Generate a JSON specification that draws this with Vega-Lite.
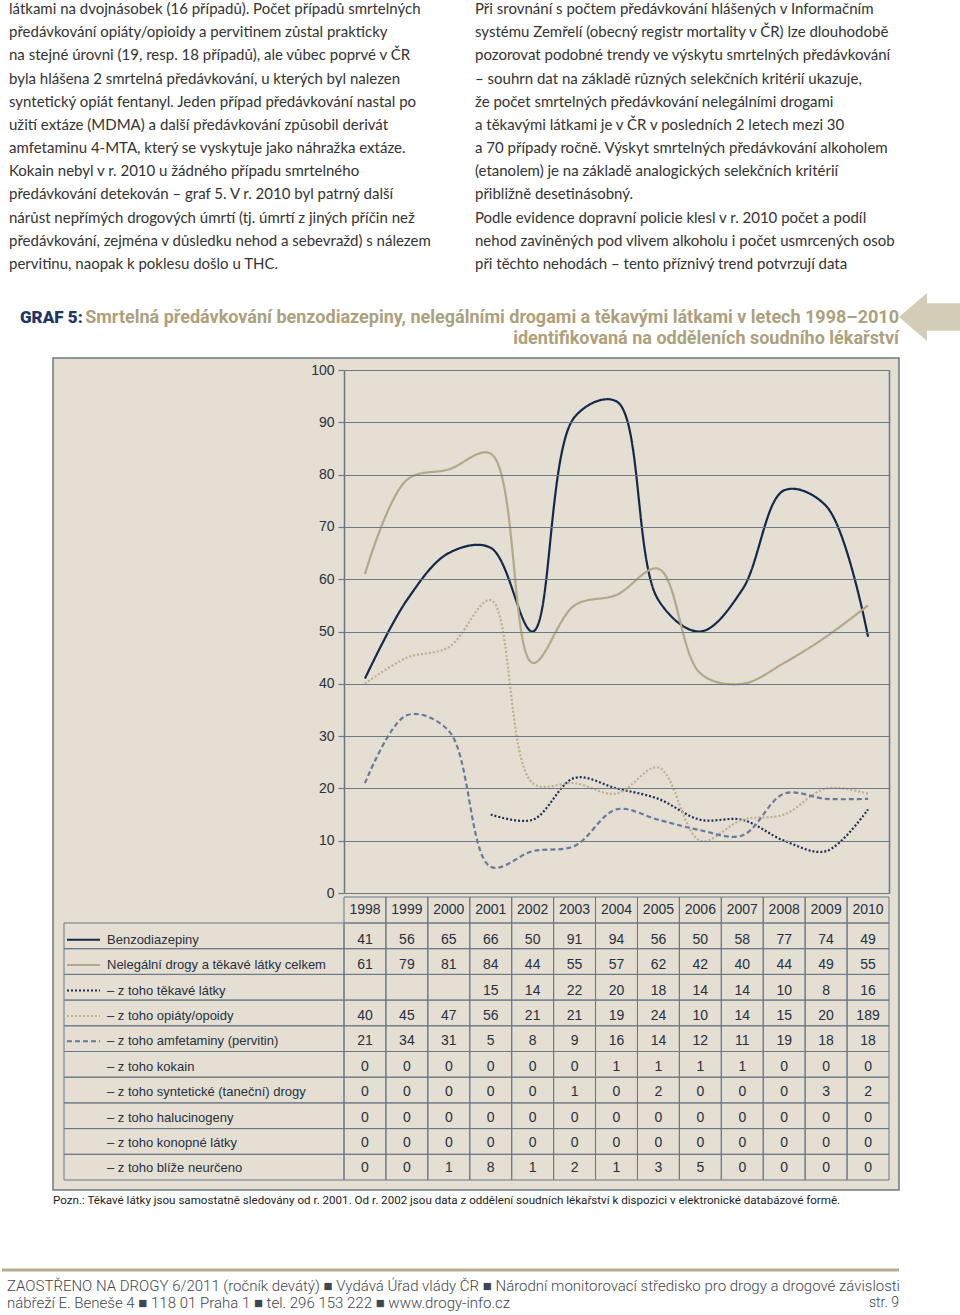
{
  "$schema": "https://vega.github.io/schema/vega-lite/v6.json",
  "background": "white",
  "padding": 0,
  "spacing": 0,
  "bounds": "flush",
  "config": {"view": {"stroke": null}, "font": "Liberation Sans"},
  "datasets": {
    "years": [{"year":1998},{"year":1999},{"year":2000},{"year":2001},{"year":2002},{"year":2003},{"year":2004},{"year":2005},{"year":2006},{"year":2007},{"year":2008},{"year":2009},{"year":2010}],
    "series": [
      {"series":"Benzodiazepiny","plotted":true},
      {"series":"Nelegální drogy a těkavé látky celkem","plotted":true},
      {"series":"– z toho těkavé látky","plotted":true},
      {"series":"– z toho opiáty/opoidy","plotted":true},
      {"series":"– z toho amfetaminy (pervitin)","plotted":true},
      {"series":"– z toho kokain","plotted":false},
      {"series":"– z toho syntetické (taneční) drogy","plotted":false},
      {"series":"– z toho halucinogeny","plotted":false},
      {"series":"– z toho konopné látky","plotted":false},
      {"series":"– z toho blíže neurčeno","plotted":false}
    ],
    "tab": [
      {"series":"Benzodiazepiny","year":1998,"value":41,"cell":"41"},
      {"series":"Benzodiazepiny","year":1999,"value":56,"cell":"56"},
      {"series":"Benzodiazepiny","year":2000,"value":65,"cell":"65"},
      {"series":"Benzodiazepiny","year":2001,"value":66,"cell":"66"},
      {"series":"Benzodiazepiny","year":2002,"value":50,"cell":"50"},
      {"series":"Benzodiazepiny","year":2003,"value":91,"cell":"91"},
      {"series":"Benzodiazepiny","year":2004,"value":94,"cell":"94"},
      {"series":"Benzodiazepiny","year":2005,"value":56,"cell":"56"},
      {"series":"Benzodiazepiny","year":2006,"value":50,"cell":"50"},
      {"series":"Benzodiazepiny","year":2007,"value":58,"cell":"58"},
      {"series":"Benzodiazepiny","year":2008,"value":77,"cell":"77"},
      {"series":"Benzodiazepiny","year":2009,"value":74,"cell":"74"},
      {"series":"Benzodiazepiny","year":2010,"value":49,"cell":"49"},
      {"series":"Nelegální drogy a těkavé látky celkem","year":1998,"value":61,"cell":"61"},
      {"series":"Nelegální drogy a těkavé látky celkem","year":1999,"value":79,"cell":"79"},
      {"series":"Nelegální drogy a těkavé látky celkem","year":2000,"value":81,"cell":"81"},
      {"series":"Nelegální drogy a těkavé látky celkem","year":2001,"value":84,"cell":"84"},
      {"series":"Nelegální drogy a těkavé látky celkem","year":2002,"value":44,"cell":"44"},
      {"series":"Nelegální drogy a těkavé látky celkem","year":2003,"value":55,"cell":"55"},
      {"series":"Nelegální drogy a těkavé látky celkem","year":2004,"value":57,"cell":"57"},
      {"series":"Nelegální drogy a těkavé látky celkem","year":2005,"value":62,"cell":"62"},
      {"series":"Nelegální drogy a těkavé látky celkem","year":2006,"value":42,"cell":"42"},
      {"series":"Nelegální drogy a těkavé látky celkem","year":2007,"value":40,"cell":"40"},
      {"series":"Nelegální drogy a těkavé látky celkem","year":2008,"value":44,"cell":"44"},
      {"series":"Nelegální drogy a těkavé látky celkem","year":2009,"value":49,"cell":"49"},
      {"series":"Nelegální drogy a těkavé látky celkem","year":2010,"value":55,"cell":"55"},
      {"series":"– z toho těkavé látky","year":1998,"value":null,"cell":""},
      {"series":"– z toho těkavé látky","year":1999,"value":null,"cell":""},
      {"series":"– z toho těkavé látky","year":2000,"value":null,"cell":""},
      {"series":"– z toho těkavé látky","year":2001,"value":15,"cell":"15"},
      {"series":"– z toho těkavé látky","year":2002,"value":14,"cell":"14"},
      {"series":"– z toho těkavé látky","year":2003,"value":22,"cell":"22"},
      {"series":"– z toho těkavé látky","year":2004,"value":20,"cell":"20"},
      {"series":"– z toho těkavé látky","year":2005,"value":18,"cell":"18"},
      {"series":"– z toho těkavé látky","year":2006,"value":14,"cell":"14"},
      {"series":"– z toho těkavé látky","year":2007,"value":14,"cell":"14"},
      {"series":"– z toho těkavé látky","year":2008,"value":10,"cell":"10"},
      {"series":"– z toho těkavé látky","year":2009,"value":8,"cell":"8"},
      {"series":"– z toho těkavé látky","year":2010,"value":16,"cell":"16"},
      {"series":"– z toho opiáty/opoidy","year":1998,"value":40,"cell":"40"},
      {"series":"– z toho opiáty/opoidy","year":1999,"value":45,"cell":"45"},
      {"series":"– z toho opiáty/opoidy","year":2000,"value":47,"cell":"47"},
      {"series":"– z toho opiáty/opoidy","year":2001,"value":56,"cell":"56"},
      {"series":"– z toho opiáty/opoidy","year":2002,"value":21,"cell":"21"},
      {"series":"– z toho opiáty/opoidy","year":2003,"value":21,"cell":"21"},
      {"series":"– z toho opiáty/opoidy","year":2004,"value":19,"cell":"19"},
      {"series":"– z toho opiáty/opoidy","year":2005,"value":24,"cell":"24"},
      {"series":"– z toho opiáty/opoidy","year":2006,"value":10,"cell":"10"},
      {"series":"– z toho opiáty/opoidy","year":2007,"value":14,"cell":"14"},
      {"series":"– z toho opiáty/opoidy","year":2008,"value":15,"cell":"15"},
      {"series":"– z toho opiáty/opoidy","year":2009,"value":20,"cell":"20"},
      {"series":"– z toho opiáty/opoidy","year":2010,"value":19,"cell":"189"},
      {"series":"– z toho amfetaminy (pervitin)","year":1998,"value":21,"cell":"21"},
      {"series":"– z toho amfetaminy (pervitin)","year":1999,"value":34,"cell":"34"},
      {"series":"– z toho amfetaminy (pervitin)","year":2000,"value":31,"cell":"31"},
      {"series":"– z toho amfetaminy (pervitin)","year":2001,"value":5,"cell":"5"},
      {"series":"– z toho amfetaminy (pervitin)","year":2002,"value":8,"cell":"8"},
      {"series":"– z toho amfetaminy (pervitin)","year":2003,"value":9,"cell":"9"},
      {"series":"– z toho amfetaminy (pervitin)","year":2004,"value":16,"cell":"16"},
      {"series":"– z toho amfetaminy (pervitin)","year":2005,"value":14,"cell":"14"},
      {"series":"– z toho amfetaminy (pervitin)","year":2006,"value":12,"cell":"12"},
      {"series":"– z toho amfetaminy (pervitin)","year":2007,"value":11,"cell":"11"},
      {"series":"– z toho amfetaminy (pervitin)","year":2008,"value":19,"cell":"19"},
      {"series":"– z toho amfetaminy (pervitin)","year":2009,"value":18,"cell":"18"},
      {"series":"– z toho amfetaminy (pervitin)","year":2010,"value":18,"cell":"18"},
      {"series":"– z toho kokain","year":1998,"value":0,"cell":"0"},
      {"series":"– z toho kokain","year":1999,"value":0,"cell":"0"},
      {"series":"– z toho kokain","year":2000,"value":0,"cell":"0"},
      {"series":"– z toho kokain","year":2001,"value":0,"cell":"0"},
      {"series":"– z toho kokain","year":2002,"value":0,"cell":"0"},
      {"series":"– z toho kokain","year":2003,"value":0,"cell":"0"},
      {"series":"– z toho kokain","year":2004,"value":1,"cell":"1"},
      {"series":"– z toho kokain","year":2005,"value":1,"cell":"1"},
      {"series":"– z toho kokain","year":2006,"value":1,"cell":"1"},
      {"series":"– z toho kokain","year":2007,"value":1,"cell":"1"},
      {"series":"– z toho kokain","year":2008,"value":0,"cell":"0"},
      {"series":"– z toho kokain","year":2009,"value":0,"cell":"0"},
      {"series":"– z toho kokain","year":2010,"value":0,"cell":"0"},
      {"series":"– z toho syntetické (taneční) drogy","year":1998,"value":0,"cell":"0"},
      {"series":"– z toho syntetické (taneční) drogy","year":1999,"value":0,"cell":"0"},
      {"series":"– z toho syntetické (taneční) drogy","year":2000,"value":0,"cell":"0"},
      {"series":"– z toho syntetické (taneční) drogy","year":2001,"value":0,"cell":"0"},
      {"series":"– z toho syntetické (taneční) drogy","year":2002,"value":0,"cell":"0"},
      {"series":"– z toho syntetické (taneční) drogy","year":2003,"value":1,"cell":"1"},
      {"series":"– z toho syntetické (taneční) drogy","year":2004,"value":0,"cell":"0"},
      {"series":"– z toho syntetické (taneční) drogy","year":2005,"value":2,"cell":"2"},
      {"series":"– z toho syntetické (taneční) drogy","year":2006,"value":0,"cell":"0"},
      {"series":"– z toho syntetické (taneční) drogy","year":2007,"value":0,"cell":"0"},
      {"series":"– z toho syntetické (taneční) drogy","year":2008,"value":0,"cell":"0"},
      {"series":"– z toho syntetické (taneční) drogy","year":2009,"value":3,"cell":"3"},
      {"series":"– z toho syntetické (taneční) drogy","year":2010,"value":2,"cell":"2"},
      {"series":"– z toho halucinogeny","year":1998,"value":0,"cell":"0"},
      {"series":"– z toho halucinogeny","year":1999,"value":0,"cell":"0"},
      {"series":"– z toho halucinogeny","year":2000,"value":0,"cell":"0"},
      {"series":"– z toho halucinogeny","year":2001,"value":0,"cell":"0"},
      {"series":"– z toho halucinogeny","year":2002,"value":0,"cell":"0"},
      {"series":"– z toho halucinogeny","year":2003,"value":0,"cell":"0"},
      {"series":"– z toho halucinogeny","year":2004,"value":0,"cell":"0"},
      {"series":"– z toho halucinogeny","year":2005,"value":0,"cell":"0"},
      {"series":"– z toho halucinogeny","year":2006,"value":0,"cell":"0"},
      {"series":"– z toho halucinogeny","year":2007,"value":0,"cell":"0"},
      {"series":"– z toho halucinogeny","year":2008,"value":0,"cell":"0"},
      {"series":"– z toho halucinogeny","year":2009,"value":0,"cell":"0"},
      {"series":"– z toho halucinogeny","year":2010,"value":0,"cell":"0"},
      {"series":"– z toho konopné látky","year":1998,"value":0,"cell":"0"},
      {"series":"– z toho konopné látky","year":1999,"value":0,"cell":"0"},
      {"series":"– z toho konopné látky","year":2000,"value":0,"cell":"0"},
      {"series":"– z toho konopné látky","year":2001,"value":0,"cell":"0"},
      {"series":"– z toho konopné látky","year":2002,"value":0,"cell":"0"},
      {"series":"– z toho konopné látky","year":2003,"value":0,"cell":"0"},
      {"series":"– z toho konopné látky","year":2004,"value":0,"cell":"0"},
      {"series":"– z toho konopné látky","year":2005,"value":0,"cell":"0"},
      {"series":"– z toho konopné látky","year":2006,"value":0,"cell":"0"},
      {"series":"– z toho konopné látky","year":2007,"value":0,"cell":"0"},
      {"series":"– z toho konopné látky","year":2008,"value":0,"cell":"0"},
      {"series":"– z toho konopné látky","year":2009,"value":0,"cell":"0"},
      {"series":"– z toho konopné látky","year":2010,"value":0,"cell":"0"},
      {"series":"– z toho blíže neurčeno","year":1998,"value":0,"cell":"0"},
      {"series":"– z toho blíže neurčeno","year":1999,"value":0,"cell":"0"},
      {"series":"– z toho blíže neurčeno","year":2000,"value":1,"cell":"1"},
      {"series":"– z toho blíže neurčeno","year":2001,"value":8,"cell":"8"},
      {"series":"– z toho blíže neurčeno","year":2002,"value":1,"cell":"1"},
      {"series":"– z toho blíže neurčeno","year":2003,"value":2,"cell":"2"},
      {"series":"– z toho blíže neurčeno","year":2004,"value":1,"cell":"1"},
      {"series":"– z toho blíže neurčeno","year":2005,"value":3,"cell":"3"},
      {"series":"– z toho blíže neurčeno","year":2006,"value":5,"cell":"5"},
      {"series":"– z toho blíže neurčeno","year":2007,"value":0,"cell":"0"},
      {"series":"– z toho blíže neurčeno","year":2008,"value":0,"cell":"0"},
      {"series":"– z toho blíže neurčeno","year":2009,"value":0,"cell":"0"},
      {"series":"– z toho blíže neurčeno","year":2010,"value":0,"cell":"0"}
    ]
  },
  "vconcat": [
    {
      "width": 960,
      "height": 280,
      "data": {"values": [
        {"column":"left","line":1,"text":"látkami na dvojnásobek (16 případů). Počet případů smrtelných"},
        {"column":"left","line":2,"text":"předávkování opiáty/opioidy a pervitinem zůstal prakticky"},
        {"column":"left","line":3,"text":"na stejné úrovni (19, resp. 18 případů), ale vůbec poprvé v ČR"},
        {"column":"left","line":4,"text":"byla hlášena 2 smrtelná předávkování, u kterých byl nalezen"},
        {"column":"left","line":5,"text":"syntetický opiát fentanyl. Jeden případ předávkování nastal po"},
        {"column":"left","line":6,"text":"užití extáze (MDMA) a další předávkování způsobil derivát"},
        {"column":"left","line":7,"text":"amfetaminu  4-MTA, který se vyskytuje jako náhražka extáze."},
        {"column":"left","line":8,"text":"Kokain nebyl v r. 2010 u žádného případu smrtelného"},
        {"column":"left","line":9,"text":"předávkování detekován – graf 5. V r. 2010 byl patrný další"},
        {"column":"left","line":10,"text":"nárůst nepřímých drogových úmrtí (tj. úmrtí z jiných příčin než"},
        {"column":"left","line":11,"text":"předávkování, zejména v důsledku nehod a sebevražd) s nálezem"},
        {"column":"left","line":12,"text":"pervitinu, naopak k poklesu došlo u THC."},
        {"column":"right","line":1,"text":"Při srovnání s počtem předávkování hlášených v Informačním"},
        {"column":"right","line":2,"text":"systému Zemřelí (obecný registr mortality v ČR) lze dlouhodobě"},
        {"column":"right","line":3,"text":"pozorovat podobné trendy ve výskytu smrtelných předávkování"},
        {"column":"right","line":4,"text":"– souhrn dat na základě různých selekčních kritérií ukazuje,"},
        {"column":"right","line":5,"text":"že počet smrtelných předávkování nelegálními drogami"},
        {"column":"right","line":6,"text":"a těkavými látkami je v ČR v posledních 2 letech mezi 30"},
        {"column":"right","line":7,"text":"a 70 případy ročně. Výskyt smrtelných předávkování alkoholem"},
        {"column":"right","line":8,"text":"(etanolem) je na základě analogických selekčních kritérií"},
        {"column":"right","line":9,"text":"přibližně desetinásobný."},
        {"column":"right","line":10,"text":"Podle evidence dopravní policie klesl v r. 2010 počet a podíl"},
        {"column":"right","line":11,"text":"nehod zaviněných pod vlivem alkoholu i počet usmrcených osob"},
        {"column":"right","line":12,"text":"při těchto nehodách – tento příznivý trend potvrzují data"}
      ]},
      "mark": {"type": "text", "align": "left", "baseline": "middle", "font": "Lato", "fontSize": 15, "color": "#333333"},
      "encoding": {
        "x": {"field": "column", "type": "nominal", "scale": {"type": "point", "domain": ["left","right"], "range": [7, 473], "padding": 0}, "axis": null},
        "y": {"field": "line", "type": "ordinal", "scale": {"type": "point", "domain": [1,2,3,4,5,6,7,8,9,10,11,12], "range": [9, 264], "padding": 0}, "axis": null},
        "text": {"field": "text", "type": "nominal"}
      }
    },
    {
      "width": 960,
      "height": 75,
      "data": {"values": [
        {"part":"label","line":1,"text":"GRAF 5:"},
        {"part":"title","line":1,"text":"Smrtelná předávkování benzodiazepiny, nelegálními drogami a těkavými látkami v letech 1998–2010"},
        {"part":"title","line":2,"text":"identifikovaná na odděleních soudního lékařství"}
      ]},
      "layer": [
        {
          "transform": [{"filter": {"field": "part", "equal": "label"}}],
          "mark": {"type": "text", "align": "left", "baseline": "middle", "font": "Roboto", "fontWeight": 900, "fontSize": 17, "color": "#1e3565"},
          "encoding": {
            "x": {"field": "part", "type": "nominal", "scale": {"type": "point", "domain": ["label","title"], "range": [18, 897], "padding": 0}, "axis": null},
            "y": {"field": "line", "type": "ordinal", "scale": {"type": "point", "domain": [1,2], "range": [38, 59], "padding": 0}, "axis": null},
            "text": {"field": "text", "type": "nominal"}
          }
        },
        {
          "transform": [{"filter": {"field": "part", "equal": "title"}}],
          "mark": {"type": "text", "align": "right", "baseline": "middle", "font": "Roboto", "fontWeight": "bold", "fontSize": 18, "color": "#aca17c"},
          "encoding": {
            "x": {"field": "part", "type": "nominal", "scale": {"type": "point", "domain": ["label","title"], "range": [18, 897], "padding": 0}, "axis": null},
            "y": {"field": "line", "type": "ordinal", "scale": {"type": "point", "domain": [1,2], "range": [38, 59], "padding": 0}, "axis": null},
            "text": {"field": "text", "type": "nominal"}
          }
        },
        {
          "data": {"values": [{"part": "arrow"}]},
          "mark": {"type": "point", "filled": true, "shape": "M-1,0L-0.11,-0.76L-0.11,-0.44L1,-0.44L1,0.44L-0.11,0.44L-0.11,0.76Z", "size": 3969, "color": "#d3ccb6", "opacity": 1, "strokeWidth": 0},
          "encoding": {
            "x": {"field": "part", "type": "nominal", "scale": {"type": "point", "domain": ["arrow"], "range": [897, 960], "padding": 0}, "axis": null},
            "y": {"datum": 1, "type": "ordinal", "scale": {"type": "point", "domain": [1,2], "range": [37, 59], "padding": 0}, "axis": null}
          }
        }
      ],
      "resolve": {"scale": {"x": "independent", "y": "independent"}}
    },
    {
      "width": 960,
      "height": 840,
      "layer": [
        {
          "data": {"values": [{"part": "box"}]},
          "mark": {"type": "rect", "fill": "#e4ded3", "stroke": "#6c7985", "strokeWidth": 1.5},
          "encoding": {
            "x": {"field": "part", "type": "nominal", "scale": {"type": "band", "domain": ["box"], "range": [51, 897], "paddingInner": 0, "paddingOuter": 0}, "axis": null},
            "y": {"field": "part", "type": "nominal", "scale": {"type": "band", "domain": ["box"], "range": [3, 835], "paddingInner": 0, "paddingOuter": 0}, "axis": null}
          }
        },
        {
          "data": {"name": "tab"},
          "transform": [
            {"filter": {"field": "series", "oneOf": ["Benzodiazepiny","Nelegální drogy a těkavé látky celkem","– z toho těkavé látky","– z toho opiáty/opoidy","– z toho amfetaminy (pervitin)"]}},
            {"filter": {"field": "value", "valid": true}}
          ],
          "mark": {"type": "line", "interpolate": "catmull-rom", "strokeWidth": 2.2},
          "encoding": {
            "x": {"field": "year", "type": "ordinal", "scale": {"type": "band", "domain": [1998,1999,2000,2001,2002,2003,2004,2005,2006,2007,2008,2009,2010], "range": [342, 887], "paddingInner": 0, "paddingOuter": 0},
              "axis": {"orient": "top", "values": [2010], "bandPosition": 1, "grid": true, "gridColor": "#6c7985", "gridWidth": 1.5, "gridOpacity": 1, "domain": false, "ticks": false, "labels": false, "title": null, "zindex": 1}},
            "y": {"field": "value", "type": "quantitative", "scale": {"domain": [0, 100], "range": [538, 15], "nice": false, "zero": false},
              "axis": {"orient": "left", "offset": -342, "values": [0,10,20,30,40,50,60,70,80,90,100], "grid": true, "gridColor": "#6c7985", "gridWidth": 1.2, "gridOpacity": 1, "domain": true, "domainColor": "#6c7985", "domainWidth": 1.5, "ticks": true, "tickColor": "#6c7985", "tickSize": 6, "tickWidth": 1.2, "labelFont": "Liberation Sans", "labelFontSize": 14, "labelColor": "#27313d", "labelPadding": 4, "labelFlush": false, "labelOverlap": false, "title": null, "zindex": 1}},
            "color": {"field": "series", "type": "nominal", "scale": {"domain": ["Benzodiazepiny","Nelegální drogy a těkavé látky celkem","– z toho těkavé látky","– z toho opiáty/opoidy","– z toho amfetaminy (pervitin)"], "range": ["#13294b","#b3a98a","#1d2f55","#bcb092","#6a7999"]}, "legend": null},
            "strokeDash": {"field": "series", "type": "nominal", "scale": {"domain": ["Benzodiazepiny","Nelegální drogy a těkavé látky celkem","– z toho těkavé látky","– z toho opiáty/opoidy","– z toho amfetaminy (pervitin)"], "range": [[1,0],[1,0],[2,2],[2,2],[5,3]]}, "legend": null}
          }
        },
        {
          "data": {"name": "years"},
          "mark": {"type": "rect", "fill": "transparent", "stroke": "#6c7985", "strokeWidth": 1},
          "encoding": {
            "x": {"field": "year", "type": "ordinal", "scale": {"type": "band", "domain": [1998,1999,2000,2001,2002,2003,2004,2005,2006,2007,2008,2009,2010], "range": [342, 887], "paddingInner": 0, "paddingOuter": 0}, "axis": null},
            "y": {"datum": "header", "type": "nominal", "scale": {"type": "band", "domain": ["header"], "range": [542, 568], "paddingInner": 0, "paddingOuter": 0}, "axis": null}
          }
        },
        {
          "data": {"name": "tab"},
          "mark": {"type": "rect", "fill": "transparent", "stroke": "#6c7985", "strokeWidth": 1},
          "encoding": {
            "x": {"field": "year", "type": "ordinal", "scale": {"type": "band", "domain": [1998,1999,2000,2001,2002,2003,2004,2005,2006,2007,2008,2009,2010], "range": [342, 887], "paddingInner": 0, "paddingOuter": 0}, "axis": null},
            "y": {"field": "series", "type": "nominal", "scale": {"type": "band", "domain": ["Benzodiazepiny","Nelegální drogy a těkavé látky celkem","– z toho těkavé látky","– z toho opiáty/opoidy","– z toho amfetaminy (pervitin)","– z toho kokain","– z toho syntetické (taneční) drogy","– z toho halucinogeny","– z toho konopné látky","– z toho blíže neurčeno"], "range": [568, 825], "paddingInner": 0, "paddingOuter": 0}, "axis": null}
          }
        },
        {
          "data": {"name": "series"},
          "mark": {"type": "rect", "fill": "transparent", "stroke": "#6c7985", "strokeWidth": 1},
          "encoding": {
            "x": {"datum": "names", "type": "nominal", "scale": {"type": "band", "domain": ["names"], "range": [62, 342], "paddingInner": 0, "paddingOuter": 0}, "axis": null},
            "y": {"field": "series", "type": "nominal", "scale": {"type": "band", "domain": ["Benzodiazepiny","Nelegální drogy a těkavé látky celkem","– z toho těkavé látky","– z toho opiáty/opoidy","– z toho amfetaminy (pervitin)","– z toho kokain","– z toho syntetické (taneční) drogy","– z toho halucinogeny","– z toho konopné látky","– z toho blíže neurčeno"], "range": [568, 825], "paddingInner": 0, "paddingOuter": 0}, "axis": null}
          }
        },
        {
          "data": {"name": "years"},
          "mark": {"type": "text", "align": "center", "baseline": "middle", "font": "Liberation Sans", "fontSize": 14, "color": "#27313d"},
          "encoding": {
            "x": {"field": "year", "type": "ordinal", "scale": {"type": "band", "domain": [1998,1999,2000,2001,2002,2003,2004,2005,2006,2007,2008,2009,2010], "range": [342, 887], "paddingInner": 0, "paddingOuter": 0}, "axis": null},
            "y": {"datum": "header", "type": "nominal", "scale": {"type": "band", "domain": ["header"], "range": [542, 568], "paddingInner": 0, "paddingOuter": 0}, "axis": null},
            "text": {"field": "year", "type": "nominal"}
          }
        },
        {
          "data": {"name": "tab"},
          "mark": {"type": "text", "align": "center", "baseline": "middle", "font": "Liberation Sans", "fontSize": 14, "color": "#27313d"},
          "encoding": {
            "x": {"field": "year", "type": "ordinal", "scale": {"type": "band", "domain": [1998,1999,2000,2001,2002,2003,2004,2005,2006,2007,2008,2009,2010], "range": [342, 887], "paddingInner": 0, "paddingOuter": 0}, "axis": null},
            "y": {"field": "series", "type": "nominal", "scale": {"type": "band", "domain": ["Benzodiazepiny","Nelegální drogy a těkavé látky celkem","– z toho těkavé látky","– z toho opiáty/opoidy","– z toho amfetaminy (pervitin)","– z toho kokain","– z toho syntetické (taneční) drogy","– z toho halucinogeny","– z toho konopné látky","– z toho blíže neurčeno"], "range": [572, 826], "paddingInner": 0, "paddingOuter": 0}, "axis": null},
            "text": {"field": "cell", "type": "nominal"}
          }
        },
        {
          "data": {"name": "series"},
          "mark": {"type": "text", "align": "left", "baseline": "middle", "dx": 43, "font": "Liberation Sans", "fontSize": 13, "color": "#27313d"},
          "encoding": {
            "x": {"datum": "names", "type": "nominal", "scale": {"type": "band", "domain": ["names"], "range": [62, 342], "paddingInner": 0, "paddingOuter": 0}, "bandPosition": 0, "axis": null},
            "y": {"field": "series", "type": "nominal", "scale": {"type": "band", "domain": ["Benzodiazepiny","Nelegální drogy a těkavé látky celkem","– z toho těkavé látky","– z toho opiáty/opoidy","– z toho amfetaminy (pervitin)","– z toho kokain","– z toho syntetické (taneční) drogy","– z toho halucinogeny","– z toho konopné látky","– z toho blíže neurčeno"], "range": [572, 826], "paddingInner": 0, "paddingOuter": 0}, "axis": null},
            "text": {"field": "series", "type": "nominal"}
          }
        },
        {
          "data": {"name": "series"},
          "transform": [{"filter": {"field": "plotted", "equal": true}}],
          "mark": {"type": "point", "shape": "stroke", "filled": false, "size": 1089, "strokeWidth": 2, "opacity": 1},
          "encoding": {
            "x": {"datum": "symbol", "type": "nominal", "scale": {"type": "point", "domain": ["symbol"], "range": [65, 98], "padding": 0}, "axis": null},
            "y": {"field": "series", "type": "nominal", "scale": {"type": "band", "domain": ["Benzodiazepiny","Nelegální drogy a těkavé látky celkem","– z toho těkavé látky","– z toho opiáty/opoidy","– z toho amfetaminy (pervitin)","– z toho kokain","– z toho syntetické (taneční) drogy","– z toho halucinogeny","– z toho konopné látky","– z toho blíže neurčeno"], "range": [572, 826], "paddingInner": 0, "paddingOuter": 0}, "axis": null},
            "color": {"field": "series", "type": "nominal", "legend": null},
            "strokeDash": {"field": "series", "type": "nominal", "legend": null}
          }
        }
      ],
      "resolve": {"scale": {"x": "independent", "y": "independent", "color": "shared", "strokeDash": "shared"}}
    },
    {
      "width": 960,
      "height": 120,
      "layer": [
        {
          "data": {"values": [{"part": "note", "text": "Pozn.: Těkavé látky jsou samostatně sledovány od r. 2001. Od r. 2002 jsou data z oddělení soudních lékařství k dispozici v elektronické databázové formě."}]},
          "mark": {"type": "text", "align": "left", "baseline": "middle", "font": "Roboto", "fontSize": 11.6, "color": "#222222"},
          "encoding": {
            "x": {"field": "part", "type": "nominal", "scale": {"type": "point", "domain": ["note"], "range": [51, 51], "padding": 0}, "axis": null},
            "y": {"field": "part", "type": "nominal", "scale": {"type": "point", "domain": ["note"], "range": [6, 6], "padding": 0}, "axis": null},
            "text": {"field": "text", "type": "nominal"}
          }
        },
        {
          "data": {"values": [{"part": "rule"}]},
          "mark": {"type": "rule", "color": "#b7ad8d", "strokeWidth": 3},
          "encoding": {
            "x": {"datum": "start", "type": "nominal", "scale": {"type": "point", "domain": ["start", "end"], "range": [0, 897], "padding": 0}, "axis": null},
            "x2": {"datum": "end"},
            "y": {"field": "part", "type": "nominal", "scale": {"type": "point", "domain": ["rule"], "range": [75, 75], "padding": 0}, "axis": null}
          }
        },
        {
          "data": {"values": [
            {"side": "left", "line": 1, "text": "ZAOSTŘENO NA DROGY 6/2011 (ročník devátý)  ■  Vydává Úřad vlády ČR  ■  Národní monitorovací středisko pro drogy a drogové závislosti"},
            {"side": "left", "line": 2, "text": "nábřeží E. Beneše 4  ■  118 01 Praha 1  ■  tel. 296 153 222  ■  www.drogy-info.cz"},
            {"side": "right", "line": 2, "text": "str. 9"}
          ]},
          "layer": [
            {
              "transform": [{"filter": {"field": "side", "equal": "left"}}],
              "mark": {"type": "text", "align": "left", "baseline": "middle", "font": "Roboto", "fontWeight": 300, "fontSize": 15, "color": "#3f4650"},
              "encoding": {
                "x": {"field": "side", "type": "nominal", "scale": {"type": "point", "domain": ["left", "right"], "range": [5, 897], "padding": 0}, "axis": null},
                "y": {"field": "line", "type": "ordinal", "scale": {"type": "point", "domain": [1, 2], "range": [91, 108], "padding": 0}, "axis": null},
                "text": {"field": "text", "type": "nominal"}
              }
            },
            {
              "transform": [{"filter": {"field": "side", "equal": "right"}}],
              "mark": {"type": "text", "align": "right", "baseline": "middle", "font": "Roboto", "fontWeight": 300, "fontSize": 14, "color": "#3f4650"},
              "encoding": {
                "x": {"field": "side", "type": "nominal", "scale": {"type": "point", "domain": ["left", "right"], "range": [5, 897], "padding": 0}, "axis": null},
                "y": {"field": "line", "type": "ordinal", "scale": {"type": "point", "domain": [1, 2], "range": [91, 108], "padding": 0}, "axis": null},
                "text": {"field": "text", "type": "nominal"}
              }
            }
          ]
        }
      ],
      "resolve": {"scale": {"x": "independent", "y": "independent"}}
    }
  ]
}
